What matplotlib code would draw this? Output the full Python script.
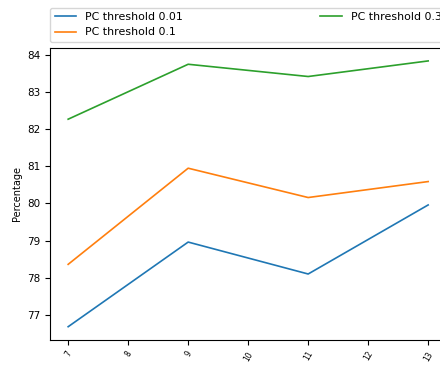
import matplotlib
matplotlib.use("Agg")
import matplotlib.pyplot as plt

# x positions and results per PC threshold
x_vals = [7, 9, 11, 13]
pc_001 = [76.68, 78.96, 78.10, 79.96]
pc_01 = [78.36, 80.95, 80.16, 80.59]
pc_03 = [82.27, 83.75, 83.42, 83.84]
x_ticks = [7, 8, 9, 10, 11, 12, 13]

fig = plt.figure(figsize=(4.4, 3.65), dpi=100)
# axes run past the right edge, as in the cropped reference
ax = fig.add_axes([0.114, 0.0685, 0.90, 0.801])

ax.plot(x_vals, pc_001, color="tab:blue", lw=1.2, label="PC threshold 0.01")
ax.plot(x_vals, pc_01, color="tab:orange", lw=1.2, label="PC threshold 0.1")
ax.plot(x_vals, pc_03, color="tab:green", lw=1.2, label="PC threshold 0.3")

ax.set_xticks(x_ticks)
ax.set_xticklabels([str(t) for t in x_ticks], rotation=60, fontsize=5.5)
ax.tick_params(axis="y", labelsize=7.5)
ax.set_ylabel("Percentage", fontsize=7)

ax.legend(bbox_to_anchor=(0, 1.02, 1, 0.102), loc="lower left", ncol=2,
          mode="expand", borderaxespad=0.0, fontsize=7.9)

fig.savefig("out.png", dpi=100)
